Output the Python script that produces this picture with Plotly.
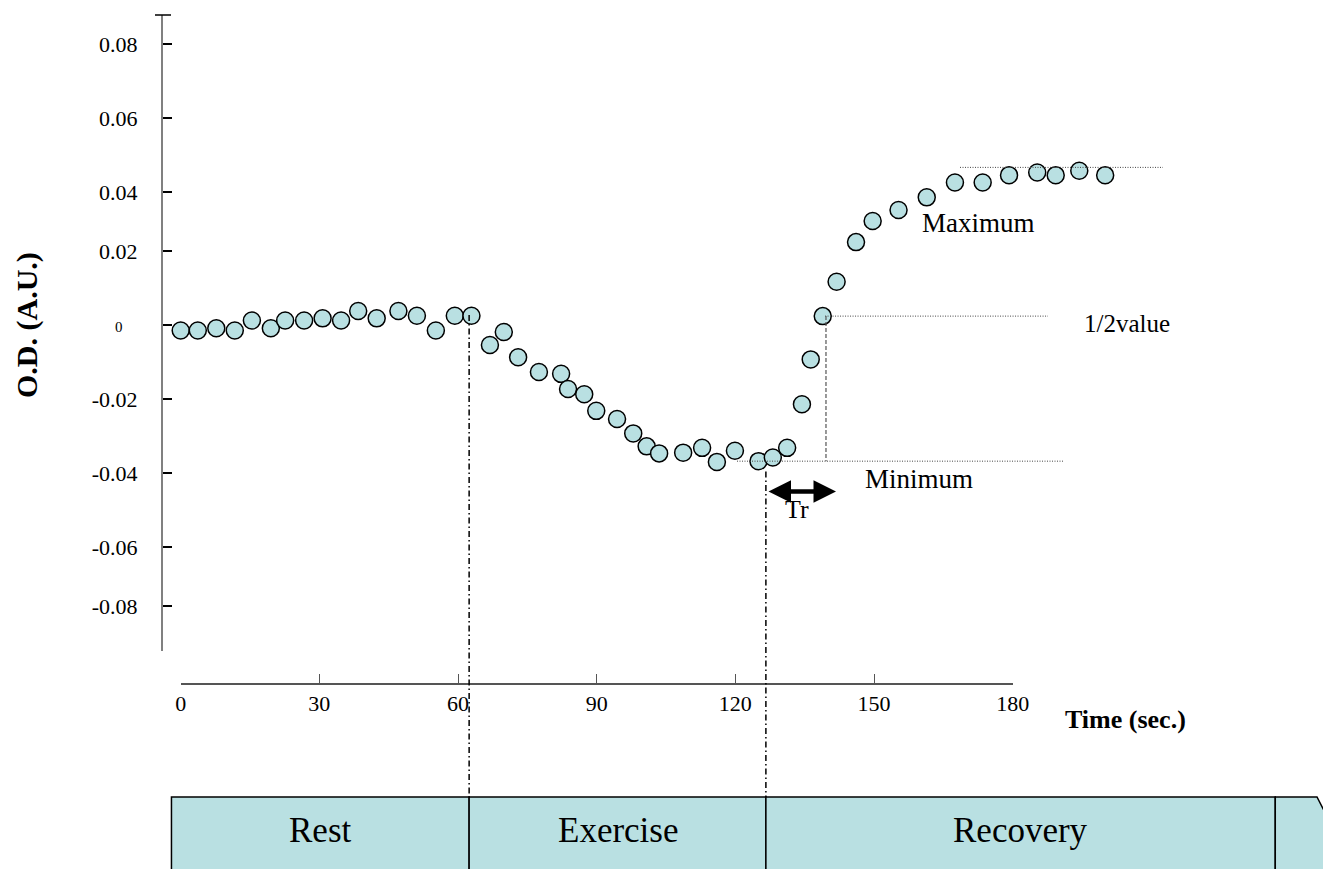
import plotly.graph_objects as go

# ---------------- data ----------------
time_s = [0.0, 3.7, 7.7, 11.7, 15.4, 19.5, 22.6, 26.7, 30.7, 34.7, 38.4, 42.4, 47.1, 51.1,
          55.2, 59.3, 62.9, 66.9, 69.9, 73.0, 77.5, 82.3, 83.8, 87.3, 89.9, 94.4, 97.9,
          100.8, 103.5, 108.7, 112.8, 116.0, 119.9, 125.0, 128.1, 131.2, 134.4, 136.3,
          138.9, 141.9, 146.1, 149.7, 155.3, 161.4, 167.5, 173.5, 179.2, 185.3, 189.3,
          194.4, 200.0]
od_au = [-0.0015, -0.0015, -0.0009, -0.0015, 0.0012, -0.0009, 0.0012, 0.0012, 0.0018,
         0.0012, 0.0038, 0.0018, 0.0038, 0.0025, -0.0015, 0.0025, 0.0025, -0.0054,
         -0.0019, -0.0087, -0.0127, -0.0132, -0.0173, -0.0187, -0.0232, -0.0254, -0.0293,
         -0.0328, -0.0347, -0.0345, -0.0332, -0.0370, -0.0340, -0.0368, -0.0358, -0.0332,
         -0.0214, -0.0093, 0.0024, 0.0117, 0.0224, 0.0281, 0.0311, 0.0345, 0.0385,
         0.0385, 0.0405, 0.0412, 0.0405, 0.0417, 0.0405]

x_ticks = [0, 30, 60, 90, 120, 150, 180]
y_tick_labels = ["0.08", "0.06", "0.04", "0.02", "", "-0.02", "-0.04", "-0.06", "-0.08", ""]

phase_names = ["Rest", "Exercise", "Recovery"]
phase_bounds = [-2.0, 62.4, 126.6, 236.8]   # seconds

t_exercise_start = 62.4
t_recovery_start = 126.6
od_minimum = -0.0368
od_half = 0.0024
od_maximum = 0.0426
t_half = 139.4

# ---------------- layout geometry (pixels -> axis units) ----------------
W, H = 1323, 869
X0_PX, X_PER_PX = 180.7, 30 / 138.67      # x=0 at pixel 180.7
Y0_PX, Y_PER_PX = 325.0, 0.02 / 74.0       # y=0 at pixel 325


def xd(px):
    return (px - X0_PX) * X_PER_PX


def yd(py):
    return (Y0_PX - py) * Y_PER_PX


# pixel positions of the drawn y ticks (the original axis is hand drawn)
y_tick_px = [44, 118, 192, 251, 325, 399, 473, 547, 606, 651]
y_tick_vals = [yd(p) for p in y_tick_px]

FONT = "Liberation Serif"
TEAL = "#B9E0E2"

fig = go.Figure()

# bottom phase bar
bar_top, bar_bot = yd(797), yd(905)
for i, name in enumerate(phase_names):
    fig.add_shape(type="rect", x0=phase_bounds[i], x1=phase_bounds[i + 1],
                  y0=bar_bot, y1=bar_top, fillcolor=TEAL,
                  line=dict(color="black", width=1.5), layer="below")
    fig.add_annotation(x=(phase_bounds[i] + phase_bounds[i + 1]) / 2, y=yd(830),
                       text=name, showarrow=False,
                       font=dict(family=FONT, size=35, color="black"))
# arrow tip of the bar
xa, xb, xc = phase_bounds[-1], xd(1317), xd(1345)
fig.add_shape(type="path",
              path=f"M {xa} {bar_top} L {xb} {bar_top} L {xc} {yd(851)} L {xb} {bar_bot} L {xa} {bar_bot} Z",
              fillcolor=TEAL, line=dict(color="black", width=1.5), layer="below")

# dash-dot phase separators
for t, ytop in [(t_exercise_start, od_half + 0.0003), (t_recovery_start, od_minimum - 0.0028)]:
    fig.add_shape(type="line", x0=t, x1=t, y0=ytop, y1=bar_top,
                  line=dict(color="black", width=1.5, dash="6px,3px,1.5px,3px"))

# reference dotted lines
fig.add_shape(type="line", x0=xd(960), x1=xd(1163), y0=od_maximum, y1=od_maximum,
              line=dict(color="#444", width=1, dash="1px,1.5px"))
fig.add_shape(type="line", x0=t_half, x1=xd(1048), y0=od_half, y1=od_half,
              line=dict(color="#444", width=1, dash="1px,1.5px"))
fig.add_shape(type="line", x0=xd(737), x1=xd(1063), y0=od_minimum, y1=od_minimum,
              line=dict(color="#444", width=1, dash="1px,1.5px"))
fig.add_shape(type="line", x0=t_half + 0.2, x1=t_half + 0.2, y0=od_half, y1=od_minimum,
              line=dict(color="#555", width=1.2, dash="4px,2px"))

# top cross tick of the y axis
fig.add_shape(type="line", x0=xd(155), x1=xd(171), y0=yd(15), y1=yd(15),
              line=dict(color="black", width=1.5), xref="x", yref="y")

# data
fig.add_trace(go.Scatter(x=time_s, y=od_au, mode="markers", cliponaxis=False,
                         marker=dict(size=17, color=TEAL, symbol="circle",
                                     line=dict(color="black", width=1.5)),
                         showlegend=False, hoverinfo="skip"))

# display-only axes
fig.add_trace(go.Scatter(x=[None], y=[None], xaxis="x2", yaxis="y2",
                         showlegend=False, hoverinfo="skip"))

# Tr double arrow
fig.add_annotation(x=xd(836), y=yd(491.5), ax=xd(767), ay=yd(491.5),
                   xref="x", yref="y", axref="x", ayref="y", text="",
                   showarrow=True, arrowhead=2, arrowside="end+start",
                   arrowsize=1.0, arrowwidth=4.5, arrowcolor="black")

texts = [
    ("Tr", 797, 509, 26, False),
    ("Minimum", 919, 479, 27, False),
    ("1/2value", 1127, 323, 25, False),
    ("Maximum", 978, 223, 27, False),
    ("Time (sec.)", 1125, 719, 26, True),
    ("0", 119, 327, 15, False),
]
for txt, px, py, size, bold in texts:
    fig.add_annotation(x=xd(px), y=yd(py), text=f"<b>{txt}</b>" if bold else txt,
                       showarrow=False, font=dict(family=FONT, size=size, color="black"))

fig.add_annotation(x=xd(27), y=yd(325), text="<b>O.D. (A.U.)</b>", textangle=-90,
                   showarrow=False, font=dict(family=FONT, size=30, color="black"))

fig.update_layout(
    width=W, height=H,
    margin=dict(l=0, r=0, t=0, b=0, autoexpand=False),
    paper_bgcolor="white", plot_bgcolor="rgba(0,0,0,0)",
    xaxis=dict(range=[xd(0), xd(W)], domain=[0, 1], visible=False, fixedrange=True),
    yaxis=dict(range=[yd(H), yd(0)], domain=[0, 1], visible=False, fixedrange=True),
    xaxis2=dict(domain=[X0_PX / W, 1012.7 / W], range=[0, 180], anchor="free",
                position=(H - 684) / H, showline=True, linecolor="#555", linewidth=1.5,
                ticks="inside", ticklen=9, tickwidth=1.2, tickcolor="#555",
                tickvals=x_ticks, ticktext=[str(v) for v in x_ticks], automargin=False,
                ticklabelstandoff=0, showgrid=False, zeroline=False,
                tickfont=dict(family=FONT, size=22, color="black"), fixedrange=True),
    yaxis2=dict(domain=[(H - 651) / H, (H - 15) / H], range=[yd(651), yd(15)],
                anchor="free", position=162 / W, showline=True, linecolor="#808080",
                linewidth=2, ticks="inside", ticklen=9, tickwidth=1.5, tickcolor="black",
                tickvals=y_tick_vals, ticktext=y_tick_labels, ticklabelstandoff=19,
                showgrid=False, zeroline=False, automargin=False,
                tickfont=dict(family=FONT, size=22, color="black"), fixedrange=True),
    showlegend=False,
)

fig.write_html("out.html", config={"displayModeBar": False},
               post_script="document.body.style.margin='0';document.body.style.overflow='hidden';")
